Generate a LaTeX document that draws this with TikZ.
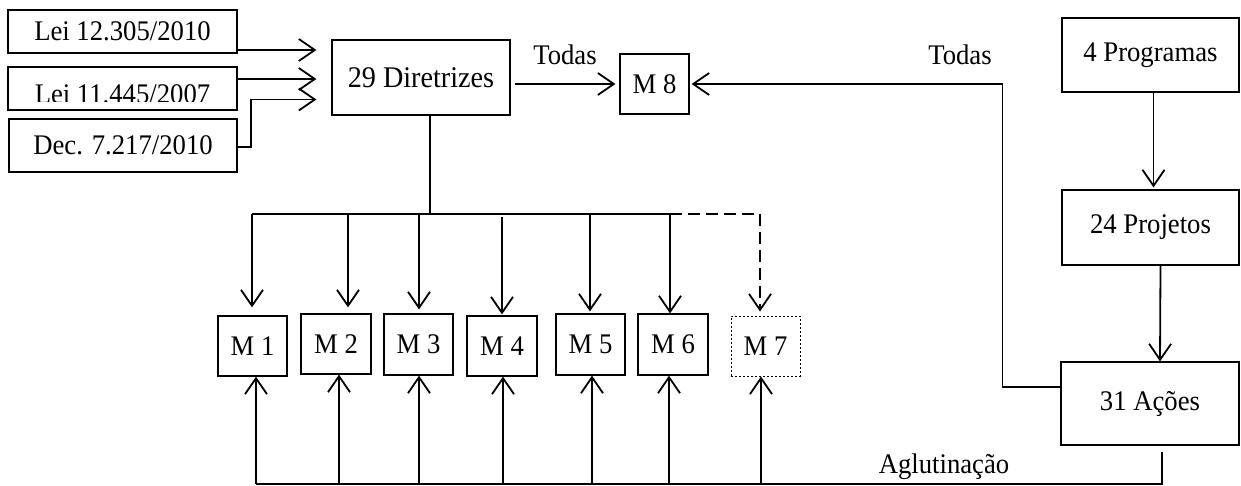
\documentclass[tikz,border=0pt]{standalone}
\usepackage{fontspec}
\setmainfont{Liberation Serif}[FakeStretch=0.94]
\usetikzlibrary{arrows.meta,calc}
\begin{document}
\begin{tikzpicture}[x=0.5pt,y=-0.5pt,
  txt/.style={font=\fontsize{14.2}{17}\selectfont},
  box/.style={draw,line width=0.6pt,inner sep=0pt,txt},
  mbox/.style={box,minimum width=34.5pt,minimum height=30pt},
  conn/.style={line width=0.9pt},
  arr/.style={conn,-{Straight Barb[length=8pt,width=11pt]}},
  lbl/.style={txt,inner sep=0pt,anchor=base},
]
\useasboundingbox (0,0) rectangle (1241,486);

% left sources
\node[box,minimum width=114.5pt,minimum height=21.5pt] (lei1) at (122.5,31.5) {Lei 12.305/2010};
\node[box,minimum width=114.5pt,minimum height=21.5pt] (lei2) at (122.5,88.5) {};
\begin{scope}
  \clip (8,60) rectangle (237,101.5);
  \node[lbl] (lei2t) at (122.5,104) {Lei 11.445/2007};
\end{scope}
\node[box,minimum width=114pt,minimum height=26.5pt] (dec) at (123,145.5) {Dec. 7.217/2010};

\node[box,font=\fontsize{15}{18}\selectfont,minimum width=89pt,minimum height=37.5pt] (dir) at (421,77.5) {29 Diretrizes};
\node[mbox] (m8) at (654.5,84) {M 8};

% right column
\node[box,minimum width=88.5pt,minimum height=37pt] (prog) at (1150.5,55) {4 Programas};
\node[box,minimum width=88.5pt,minimum height=37.5pt] (proj) at (1150.5,227.5) {24 Projetos};
\node[box,minimum width=89pt,minimum height=41.5pt] (acoes) at (1150,403.5) {31 Ações};

% M boxes
\node[mbox] (M1) at (252.5,346) {M 1};
\node[mbox,minimum width=35pt] (M2) at (336,344) {M 2};
\node[mbox,minimum height=30.5pt] (M3) at (418.5,344.5) {M 3};
\node[mbox,minimum width=35pt] (M4) at (502,346) {M 4};
\node[mbox,minimum height=30.5pt] (M5) at (590.5,344.5) {M 5};
\node[mbox,minimum width=35pt,minimum height=30.5pt] (M6) at (673,344.5) {M 6};
\node[mbox,line width=0.5pt,dash pattern=on 1pt off 1pt] (M7) at (765.5,346) {M 7};

% inputs to Diretrizes
\coordinate (l1) at ($(lei1.east)+(0,18.5)$);
\coordinate (l2) at ($(lei2.east)+(0,-9.5)$);
\coordinate (d1) at ($(dec.east)+(0,1.5)$);
\coordinate (d3) at ($(dir.west)+(0,22)$);
\draw[arr,shorten >=7.5pt] (l1) -- (l1 -| dir.west);
\draw[arr,shorten >=7.5pt] (l2) -- (l2 -| dir.west);
\draw[arr,shorten >=7.5pt] (d1) -- ++(13,0) |- (d3);

% Diretrizes -> M8
\draw[arr,shorten <=2pt,shorten >=2pt] (dir.east |- m8.west) -- (m8.west);
\node[lbl] (todas1) at (565,65) {Todas};

% Acoes -> M8
\coordinate (a1) at ($(acoes.west)+(0,-16.5)$);
\draw[arr,shorten >=1pt] (a1) -- ++(-58,0) |- (m8.east);
\node[lbl] (todas2) at (960,65) {Todas};

% right chain
\draw[arr,shorten >=1pt] ($(prog.south)+(3,0)$) -- ($(proj.north)+(3,0)$);
\draw[arr] ($(proj.south)+(10,0)$) -- ($(acoes.north)+(10,0)$);

% top bus
\coordinate (bus) at ($(dir.south)+(9,99)$);
\draw[conn] ($(dir.south)+(9,0)$) -- (bus);
\coordinate (b1) at (252,214);
\coordinate (b2) at (348,214);
\coordinate (b3) at (419,214);
\coordinate (b4) at (502,214);
\coordinate (b5) at (590,214);
\coordinate (b6) at (670,214);
\coordinate (b7) at (760,214);
\draw[conn] (b1) -- (b6);
\draw[arr,shorten >=4pt] (b1) -- (b1 |- M1.north);
\draw[arr,shorten >=3pt] (b2) -- (b2 |- M2.north);
\draw[arr,shorten >=2pt] (b3) -- (b3 |- M3.north);
\draw[arr,shorten >=0.5pt] ($(b4)+(0,3)$) -- (b4 |- M4.north);
\draw[arr,shorten >=1pt] (b5) -- (b5 |- M5.north);
\draw[arr] (b6) -- (b6 |- M6.north);
\draw[conn,dash pattern=on 6pt off 3pt] (b6) -- (b7);
\draw[arr,dash pattern=on 6pt off 3pt,shorten >=2pt] (b7) -- (b7 |- M7.north);

% bottom bus (Aglutinacao)
\coordinate (u1) at (256,484);
\coordinate (u2) at (339,484);
\coordinate (u3) at (419,484);
\coordinate (u4) at (503,484);
\coordinate (u5) at (592,484);
\coordinate (u6) at (669,484);
\coordinate (u7) at (761,484);
\coordinate (ae) at ($(acoes.south)+(12,6)$);
\draw[conn] (ae) |- (u1);
\draw[arr] (u1) -- (u1 |- M1.south);
\draw[arr] (u2) -- (u2 |- M2.south);
\draw[arr] (u3) -- (u3 |- M3.south);
\draw[arr] (u4) -- (u4 |- M4.south);
\draw[arr] (u5) -- (u5 |- M5.south);
\draw[arr] (u6) -- (u6 |- M6.south);
\draw[arr] (u7) -- (u7 |- M7.south);
\node[lbl] (aglut) at (944,473) {Aglutinação};
\end{tikzpicture}
\end{document}
